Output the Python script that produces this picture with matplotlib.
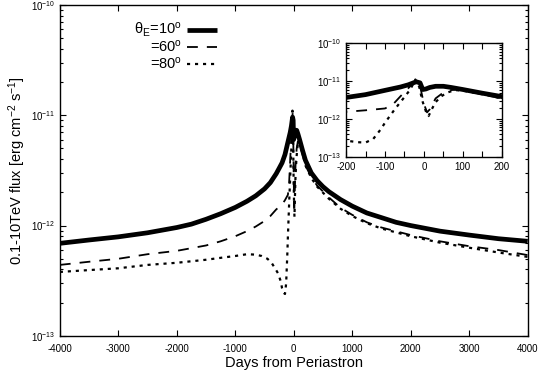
import numpy as np
import matplotlib
matplotlib.use("Agg")
import matplotlib.pyplot as plt
from matplotlib.ticker import LogLocator, MultipleLocator, NullFormatter

plt.rcParams["font.family"] = ["Liberation Sans", "DejaVu Sans"]
plt.rcParams["mathtext.fontset"] = "custom"
plt.rcParams["mathtext.rm"] = "Liberation Sans"
plt.rcParams["mathtext.it"] = "Liberation Sans:italic"
plt.rcParams["mathtext.bf"] = "Liberation Sans:bold"
plt.rcParams["axes.unicode_minus"] = False

# =====================================================
# DATA (flux in units of 1e-12 erg cm^-2 s^-1)
# =====================================================

days_10 = [-4000, -3500, -3000, -2500, -2000, -1750, -1500, -1250, -1000, -800,
           -650, -500, -400, -300, -250, -200, -150, -100, -60, -40, -20, -10,
           -3, 5, 15, 30, 50, 70, 100, 150, 200, 300, 400, 500, 600, 800, 1000,
           1250, 1500, 1750, 2000, 2500, 3000, 3500, 4000]
flux_10 = [0.69, 0.74, 0.79, 0.86, 0.96, 1.03, 1.14, 1.28, 1.46, 1.66,
           1.86, 2.15, 2.45, 2.95, 3.3, 3.7, 4.4, 5.7, 7.0, 8.0, 9.6, 9.0,
           6.0, 6.2, 6.8, 7.3, 7.3, 6.8, 6.0, 4.8, 3.9, 3.0, 2.55, 2.25, 2.03, 1.72, 1.5,
           1.3, 1.18, 1.07, 1.0, 0.89, 0.82, 0.76, 0.72]

days_60 = [-4000, -3500, -3000, -2500, -2000, -1500, -1250, -1000, -800, -650,
           -500, -400, -300, -200, -150, -100, -80, -60, -40, -25, -18, -8, 0,
           8, 15, 30, 50, 70, 90, 120, 150, 200, 300, 400, 600, 800, 1000, 1250,
           1500, 2000, 2500, 3000, 3500, 4000]
flux_60 = [0.44, 0.47, 0.50, 0.55, 0.59, 0.66, 0.72, 0.80, 0.89, 0.98,
           1.1, 1.22, 1.4, 1.55, 1.7, 1.9, 2.4, 4.0, 6.5, 9.5, 10.5, 6.0, 2.5,
           1.5, 1.8, 3.5, 5.0, 5.8, 6.0, 5.3, 4.4, 3.5, 2.75, 2.3, 1.8, 1.45, 1.25, 1.07,
           0.96, 0.82, 0.72, 0.65, 0.60, 0.54]

days_80 = [-4000, -3500, -3000, -2500, -2000, -1500, -1250, -1000, -800, -650,
           -550, -450, -380, -320, -270, -220, -200, -170, -150, -130, -110, -100,
           -75, -50, -35, -22, -12, -4, 5, 12, 20, 30, 45, 60, 80, 100, 150, 200,
           300, 400, 600, 800, 1000, 1250, 1500, 2000, 2500, 3000, 3500, 4000]
flux_80 = [0.38, 0.395, 0.41, 0.44, 0.46, 0.49, 0.51, 0.53, 0.55, 0.545,
           0.53, 0.50, 0.46, 0.41, 0.37, 0.31, 0.27, 0.245, 0.24, 0.30, 0.55, 0.8,
           1.8, 3.8, 6.0, 11.0, 7.0, 3.0, 1.6, 1.2, 1.8, 2.8, 4.0, 5.0, 5.8, 5.6, 4.5, 3.5,
           2.7, 2.25, 1.75, 1.42, 1.22, 1.05, 0.94, 0.80, 0.70, 0.63, 0.57, 0.52]

labels = ["\u03b8$_\\mathrm{E}$=10$^\\mathrm{o}$", "=60$^\\mathrm{o}$", "=80$^\\mathrm{o}$"]

# =====================================================
# STYLES
# =====================================================

styles = [
    dict(color="black", lw=3.4, ls="-", solid_capstyle="butt"),
    dict(color="black", lw=1.3, ls=(0, (6, 5))),
    dict(color="black", lw=1.6, ls=(0, (1.4, 2.2))),
]

series = [
    (np.array(days_10), np.array(flux_10) * 1e-12),
    (np.array(days_60), np.array(flux_60) * 1e-12),
    (np.array(days_80), np.array(flux_80) * 1e-12),
]


def style_axis(ax, size):
    ax.set_yscale("log")
    ax.tick_params(which="both", direction="in", top=True, right=True,
                   labelsize=size, width=0.8)
    ax.tick_params(which="major", length=4)
    ax.tick_params(which="minor", length=2.5)
    ax.yaxis.set_major_locator(LogLocator(base=10, numticks=10))
    ax.yaxis.set_minor_locator(LogLocator(base=10, subs=np.arange(2, 10), numticks=10))
    ax.yaxis.set_minor_formatter(NullFormatter())
    for s in ax.spines.values():
        s.set_linewidth(1.0)


fig = plt.figure(figsize=(5.39, 3.72), dpi=100)

# =====================================================
# MAIN PANEL
# =====================================================

ax = fig.add_axes([0.111, 0.097, 0.868, 0.890])
for (d, f), st in zip(series, styles):
    ax.plot(d, f, **st)
style_axis(ax, 7)
ax.set_xlim(-4000, 4000)
ax.set_ylim(1e-13, 1e-10)
ax.xaxis.set_major_locator(MultipleLocator(1000))
ax.tick_params(axis="x", pad=6)
ax.set_xlabel("Days from Periastron", fontsize=10.5, labelpad=1)
ax.set_ylabel("0.1-10TeV flux [erg cm$^\\mathrm{-2}$ s$^\\mathrm{-1}$]",
              fontsize=10.5, labelpad=2)

# legend (gnuplot-like: right aligned text, sample after)
rows = [0.924, 0.873, 0.822]
for lab, st, yy in zip(labels, styles, rows):
    ax.text(0.261, yy, lab, transform=ax.transAxes, ha="right", va="center",
            fontsize=10.5)
    ax.plot([0.271, 0.335], [yy, yy], transform=ax.transAxes, **st)

# =====================================================
# INSET
# =====================================================

ins = fig.add_axes([0.642, 0.578, 0.289, 0.306])
for (d, f), st in zip(series, styles):
    ins.plot(d, f, **st)
style_axis(ins, 7)
ins.set_xlim(-200, 200)
ins.set_ylim(1e-13, 1e-10)
ins.xaxis.set_major_locator(MultipleLocator(100))
ins.xaxis.set_minor_locator(MultipleLocator(50))
ins.tick_params(axis="x", which="minor", length=4)

fig.savefig("out.png", dpi=100)
